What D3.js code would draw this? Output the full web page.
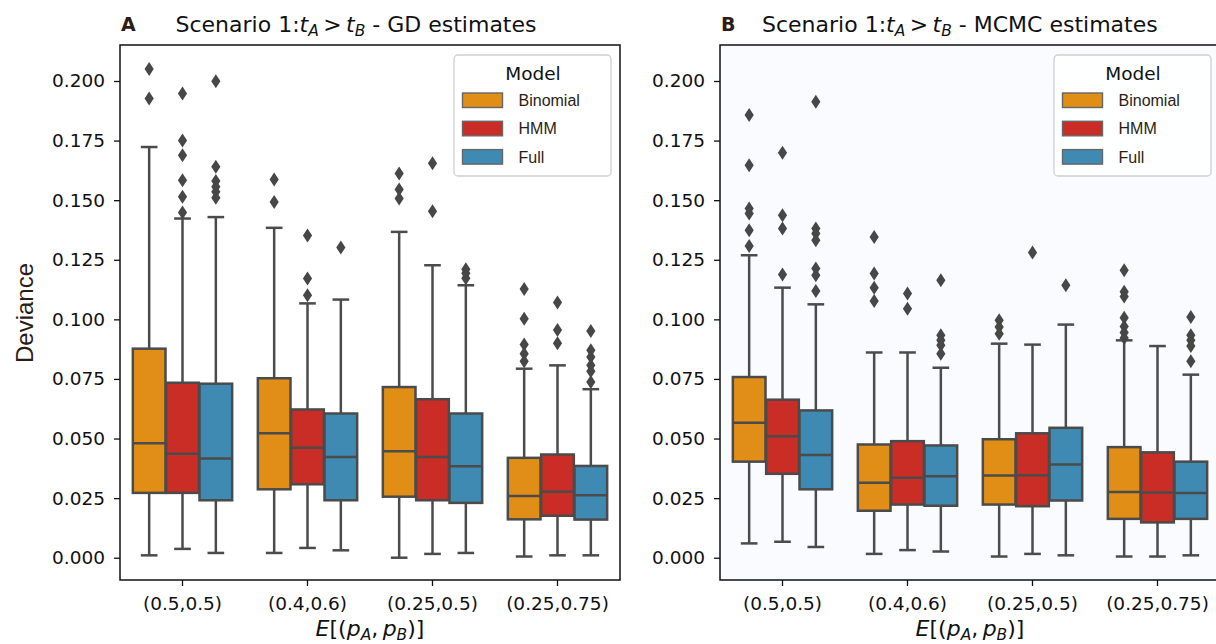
<!DOCTYPE html>
<html lang="en">
<head>
<meta charset="UTF-8">
<title>Scenario 1 deviance</title>
<script src="https://d3js.org/d3.v7.min.js"></script>
<style>
  body { margin: 0; background: #fff; }
  svg { display: block; font-family: "DejaVu Sans", sans-serif; }
</style>
</head>
<body>
<svg id="chart" width="1216" height="644"></svg>
<script>
// categories and models
const categories = ["(0.5,0.5)", "(0.4,0.6)", "(0.25,0.5)", "(0.25,0.75)"];
const models = ["Binomial", "HMM", "Full"];
const colors = ["#e08e16", "#c92d25", "#3e8ab3"];
const yTicks = [0, 0.025, 0.05, 0.075, 0.1, 0.125, 0.15, 0.175, 0.2];

// [lower whisker, q1, median, q3, upper whisker], group by group, model by model
const gdStats = [
  [0.0010, 0.0272, 0.0480, 0.0877, 0.1723],
  [0.0037, 0.0272, 0.0436, 0.0734, 0.1423],
  [0.0020, 0.0241, 0.0416, 0.0730, 0.1429],
  [0.0020, 0.0287, 0.0522, 0.0753, 0.1384],
  [0.0041, 0.0308, 0.0461, 0.0622, 0.1067],
  [0.0031, 0.0241, 0.0423, 0.0605, 0.1083],
  [0.0000, 0.0256, 0.0447, 0.0716, 0.1367],
  [0.0016, 0.0241, 0.0423, 0.0665, 0.1227],
  [0.0020, 0.0230, 0.0384, 0.0605, 0.1143],
  [0.0005, 0.0161, 0.0259, 0.0419, 0.0793],
  [0.0010, 0.0176, 0.0277, 0.0433, 0.0807],
  [0.0010, 0.0160, 0.0262, 0.0385, 0.0707]
];
const gdOutliers = [
  [0.2050, 0.1927],
  [0.1948, 0.1750, 0.1688, 0.1584, 0.1514, 0.1448],
  [0.1999, 0.1640, 0.1580, 0.1556, 0.1535, 0.1510],
  [0.1587, 0.1492],
  [0.1352, 0.1171, 0.1101],
  [0.1301],
  [0.1612, 0.1545, 0.1507],
  [0.1655, 0.1454],
  [0.1210, 0.1193, 0.1172],
  [0.1127, 0.1003, 0.0894, 0.0856, 0.0824],
  [0.1071, 0.0955, 0.0900],
  [0.0951, 0.0870, 0.0842, 0.0807, 0.0782, 0.0737]
];

const mcmcStats = [
  [0.0060, 0.0403, 0.0566, 0.0758, 0.1269],
  [0.0067, 0.0352, 0.0510, 0.0663, 0.1133],
  [0.0045, 0.0287, 0.0431, 0.0618, 0.1063],
  [0.0016, 0.0197, 0.0314, 0.0475, 0.0861],
  [0.0032, 0.0223, 0.0335, 0.0489, 0.0861],
  [0.0026, 0.0218, 0.0342, 0.0471, 0.0797],
  [0.0005, 0.0223, 0.0345, 0.0497, 0.0898],
  [0.0016, 0.0216, 0.0346, 0.0522, 0.0894],
  [0.0010, 0.0240, 0.0391, 0.0545, 0.0978],
  [0.0005, 0.0163, 0.0276, 0.0464, 0.0912],
  [0.0005, 0.0148, 0.0274, 0.0442, 0.0888],
  [0.0010, 0.0163, 0.0272, 0.0403, 0.0768]
];
const mcmcOutliers = [
  [0.1857, 0.1647, 0.1465, 0.1444, 0.1374, 0.1308],
  [0.1699, 0.1437, 0.1381, 0.1188],
  [0.1913, 0.1381, 0.1360, 0.1332, 0.1213, 0.1185, 0.1119],
  [0.1346, 0.1192, 0.1133, 0.1077],
  [0.1108, 0.1045],
  [0.1164, 0.0933, 0.0912, 0.0891, 0.0856],
  [0.0996, 0.0968, 0.0940],
  [0.1280],
  [0.1143],
  [0.1206, 0.1116, 0.1096, 0.1007, 0.0970, 0.0945, 0.0922],
  [],
  [0.1010, 0.0933, 0.0912, 0.0888, 0.0824]
];

const svg = d3.select("#chart");
const plotTop = 45, plotBottom = 580;
const lineCol = "#4b4b4b";
const brown = "#2b1d14";

const y = d3.scaleLinear().domain([-0.00935, 0.2151]).range([plotBottom, plotTop]);

const panels = [
  { tag: "A", title: "GD estimates", stats: gdStats, outliers: gdOutliers, x0: 120, x1: 620, bg: "#ffffff", tagX: 121, titleX: 175.5 },
  { tag: "B", title: "MCMC estimates", stats: mcmcStats, outliers: mcmcOutliers, x0: 720, x1: 1220, bg: "#f9fbfe", tagX: 721, titleX: 762 }
];

panels.forEach(p => {
  const g = svg.append("g");
  const x = d3.scaleBand().domain(categories).range([p.x0, p.x1]);
  const bw = x.bandwidth();
  const boxW = bw * 0.8 / models.length;

  // background
  g.append("rect").attr("x", p.x0).attr("y", plotTop)
    .attr("width", p.x1 - p.x0).attr("height", plotBottom - plotTop).attr("fill", p.bg);

  // boxes
  const items = [];
  categories.forEach((c, i) => models.forEach((m, j) => {
    const s = p.stats[i * 3 + j];
    items.push({ cx: x(c) + bw / 2 + (j - 1) * boxW, s: s, out: p.outliers[i * 3 + j], color: colors[j] });
  }));

  const box = g.selectAll("g.box").data(items).join("g").attr("class", "box");
  box.append("line").attr("x1", d => d.cx).attr("x2", d => d.cx)
    .attr("y1", d => y(d.s[3])).attr("y2", d => y(d.s[4]));
  box.append("line").attr("x1", d => d.cx).attr("x2", d => d.cx)
    .attr("y1", d => y(d.s[1])).attr("y2", d => y(d.s[0]));
  box.append("line").attr("x1", d => d.cx - boxW / 4).attr("x2", d => d.cx + boxW / 4)
    .attr("y1", d => y(d.s[4])).attr("y2", d => y(d.s[4]));
  box.append("line").attr("x1", d => d.cx - boxW / 4).attr("x2", d => d.cx + boxW / 4)
    .attr("y1", d => y(d.s[0])).attr("y2", d => y(d.s[0]));
  box.append("rect")
    .attr("x", d => d.cx - boxW * 0.49).attr("width", boxW * 0.98)
    .attr("y", d => y(d.s[3])).attr("height", d => y(d.s[1]) - y(d.s[3]))
    .attr("fill", d => d.color);
  box.append("line").attr("x1", d => d.cx - boxW * 0.49).attr("x2", d => d.cx + boxW * 0.49)
    .attr("y1", d => y(d.s[2])).attr("y2", d => y(d.s[2]));
  box.selectAll("line, rect").attr("stroke", lineCol).attr("stroke-width", 2.5);

  box.selectAll("path.flier").data(d => d.out.map(v => ({ cx: d.cx, v: v }))).join("path")
    .attr("class", "flier")
    .attr("d", "M0,-7L4.6,0L0,7L-4.6,0Z")
    .attr("transform", d => `translate(${d.cx},${y(d.v)})`)
    .attr("fill", "#474747");

  // axes
  const ya = g.append("g").attr("transform", `translate(${p.x0},0)`)
    .call(d3.axisLeft(y).tickValues(yTicks).tickSize(6).tickPadding(9).tickFormat(d3.format(".3f")));
  const xa = g.append("g").attr("transform", `translate(0,${plotBottom})`)
    .call(d3.axisBottom(x).tickSize(6).tickPadding(11));
  [ya, xa].forEach(a => {
    a.select(".domain").remove();
    a.selectAll(".tick line").attr("stroke", "#111").attr("stroke-width", 1.3);
    a.selectAll(".tick text").attr("fill", "#111").attr("font-size", 18.5)
      .attr("font-family", "DejaVu Sans");
  });

  // spines
  g.append("rect").attr("x", p.x0).attr("y", plotTop)
    .attr("width", p.x1 - p.x0).attr("height", plotBottom - plotTop)
    .attr("fill", "none").attr("stroke", "#111").attr("stroke-width", 1.5);

  // titles
  svg.append("text").attr("x", p.tagX).attr("y", 31)
    .attr("font-weight", "bold").attr("font-size", 19).attr("fill", brown).text(p.tag);
  const t = svg.append("text").attr("x", p.titleX).attr("y", 32).attr("font-size", 22).attr("fill", "#111");
  t.append("tspan").text("Scenario 1:");
  t.append("tspan").attr("font-style", "italic").text("t");
  t.append("tspan").attr("font-style", "italic").attr("font-size", 15.5).attr("dy", 4).text("A");
  t.append("tspan").attr("dy", -4).text("\u2009>\u2009");
  t.append("tspan").attr("font-style", "italic").text("t");
  t.append("tspan").attr("font-style", "italic").attr("font-size", 15.5).attr("dy", 4).text("B");
  t.append("tspan").attr("dy", -4).text(" - " + p.title);

  // x label
  const xl = svg.append("text").attr("x", (p.x0 + p.x1) / 2).attr("y", 636)
    .attr("text-anchor", "middle").attr("font-size", 22).attr("fill", "#111");
  xl.append("tspan").attr("font-style", "italic").text("E");
  xl.append("tspan").text("[(");
  xl.append("tspan").attr("font-style", "italic").text("p");
  xl.append("tspan").attr("font-style", "italic").attr("font-size", 15.5).attr("dy", 3.5).text("A");
  xl.append("tspan").attr("dy", -3.5).text(",\u2009");
  xl.append("tspan").attr("font-style", "italic").text("p");
  xl.append("tspan").attr("font-style", "italic").attr("font-size", 15.5).attr("dy", 3.5).text("B");
  xl.append("tspan").attr("dy", -3.5).text(")]");

  // legend
  const lx = p.x1 - 9 - 157;
  const lg = svg.append("g").attr("transform", `translate(${lx},55)`);
  lg.append("rect").attr("width", 157).attr("height", 121).attr("rx", 4)
    .attr("fill", "#ffffff").attr("fill-opacity", 0.85).attr("stroke", "#cfcfcf").attr("stroke-width", 1.3);
  lg.append("text").attr("x", 79).attr("y", 24.5).attr("text-anchor", "middle")
    .attr("font-size", 18.5).attr("fill", "#111").text("Model");
  const li = lg.selectAll("g.item").data(models).join("g").attr("class", "item")
    .attr("transform", (d, i) => `translate(8.5,${38 + i * 28.3})`);
  li.append("rect").attr("width", 40).attr("height", 14.5)
    .attr("fill", (d, i) => colors[i]).attr("stroke", "#666").attr("stroke-width", 1.4);
  li.append("text").attr("x", 56).attr("y", 13).attr("font-family", "Liberation Sans")
    .attr("font-size", 16).attr("fill", brown).text(d => d);
});

// y label
svg.append("text").attr("transform", "translate(33,313) rotate(-90)")
  .attr("text-anchor", "middle").attr("font-family", "Liberation Sans")
  .attr("font-size", 24).attr("fill", brown).text("Deviance");
</script>
</body>
</html>
